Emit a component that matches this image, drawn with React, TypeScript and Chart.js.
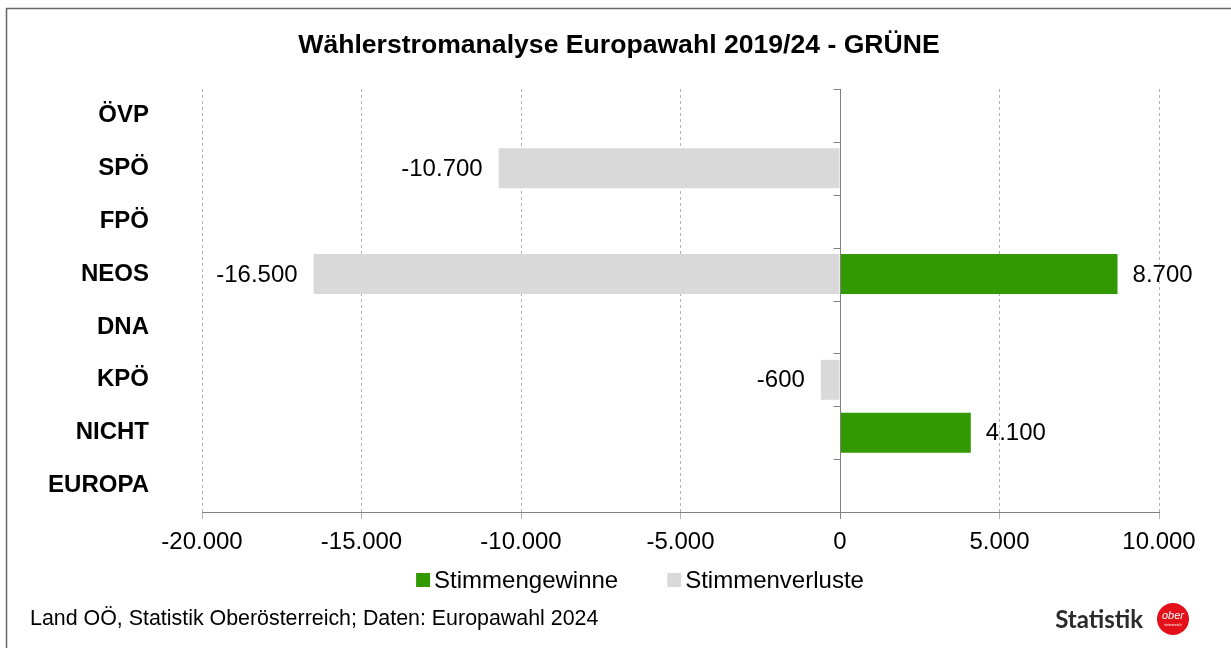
import React, { useEffect, useRef } from "react";
import { Chart, registerables } from "chart.js";

Chart.register(...registerables);

const TITLE = "Wählerstromanalyse Europawahl 2019/24 - GRÜNE";
const FOOTER = "Land OÖ, Statistik Oberösterreich; Daten: Europawahl 2024";
const categories = ["ÖVP", "SPÖ", "FPÖ", "NEOS", "DNA", "KPÖ", "NICHT", "EUROPA"];
const gains: (number | null)[] = [null, null, null, 8700, null, null, 4100, null];
const losses: (number | null)[] = [null, -10700, null, -16500, null, -600, null, null];
const seriesNames = ["Stimmengewinne", "Stimmenverluste"];
const seriesColors = ["#339900", "#d9d9d9"];
const xMin = -20000;
const xMax = 10000;
const xStep = 5000;

const FONT = "'Liberation Sans', Arial, sans-serif";

function fmt(v: number): string {
  const s = Math.abs(Math.round(v)).toString().replace(/\B(?=(\d{3})+(?!\d))/g, ".");
  return (v < 0 ? "-" : "") + s;
}

const decorPlugin = {
  id: "decor",
  beforeDraw(chart: any) {
    const ctx = chart.ctx;
    ctx.save();
    ctx.fillStyle = "#ffffff";
    ctx.fillRect(0, 0, chart.width, chart.height);
    ctx.restore();
  },
  afterDatasetsDraw(chart: any) {
    const ctx = chart.ctx;
    const x = chart.scales.x;
    const y = chart.scales.y;
    const area = chart.chartArea;
    const zx = Math.round(x.getPixelForValue(0)) + 0.5;
    ctx.save();
    ctx.strokeStyle = "#808080";
    ctx.lineWidth = 1;
    ctx.beginPath();
    ctx.moveTo(zx, area.top);
    ctx.lineTo(zx, area.bottom + 7);
    ctx.stroke();
    for (let i = 0; i <= categories.length; i++) {
      const yy = Math.round(y.getPixelForValue(i - 0.5)) + 0.5;
      ctx.beginPath();
      ctx.moveTo(zx - 7, yy);
      ctx.lineTo(zx, yy);
      ctx.stroke();
    }
    ctx.fillStyle = "#000";
    ctx.font = `24px ${FONT}`;
    ctx.textBaseline = "middle";
    chart.data.datasets.forEach((ds: any, di: number) => {
      const meta = chart.getDatasetMeta(di);
      meta.data.forEach((el: any, i: number) => {
        const v = ds.data[i];
        if (v === null || v === undefined) return;
        if (v < 0) {
          ctx.textAlign = "right";
          ctx.fillText(fmt(v), el.x - 16, el.y + 1);
        } else {
          ctx.textAlign = "left";
          ctx.fillText(fmt(v), el.x + 15, el.y + 1);
        }
      });
    });
    ctx.restore();
  },
  afterDraw(chart: any) {
    const ctx = chart.ctx;
    ctx.save();
    // frame
    ctx.strokeStyle = "#666666";
    ctx.lineWidth = 1.5;
    ctx.strokeRect(6.5, 8.5, chart.width + 20, chart.height + 20);
    // title
    ctx.fillStyle = "#000";
    ctx.font = `bold 26.6px ${FONT}`;
    ctx.textAlign = "center";
    ctx.textBaseline = "middle";
    ctx.fillText(TITLE, 619, 46);
    // legend
    ctx.font = `24px ${FONT}`;
    ctx.textAlign = "left";
    const box = 14;
    const gap = 4;
    const spacing = 49;
    const w0 = ctx.measureText(seriesNames[0]).width;
    const w1 = ctx.measureText(seriesNames[1]).width;
    const total = box + gap + w0 + spacing + box + gap + w1;
    let lx = 640 - total / 2;
    const ly = 580;
    [w0, w1].forEach((w, i) => {
      ctx.fillStyle = seriesColors[i];
      ctx.fillRect(lx, ly - box / 2, box, box);
      ctx.fillStyle = "#000";
      ctx.fillText(seriesNames[i], lx + box + gap, ly + 1);
      lx += box + gap + w + spacing;
    });
    // footer
    ctx.font = `21.4px ${FONT}`;
    ctx.fillText(FOOTER, 30, 619);
    // logo
    ctx.fillStyle = "#2b2b2b";
    ctx.font = `bold 24px Lato, 'DejaVu Sans', sans-serif`;
    ctx.textAlign = "right";
    ctx.fillText("Statistik", 1143, 620);
    ctx.fillStyle = "#e3101a";
    ctx.beginPath();
    ctx.arc(1173, 619, 16, 0, Math.PI * 2);
    ctx.fill();
    ctx.fillStyle = "#fff";
    ctx.font = `italic 11px ${FONT}`;
    ctx.textAlign = "center";
    ctx.fillText("ober", 1173, 616);
    ctx.font = `4px ${FONT}`;
    ctx.fillText("österreich", 1173, 625);
    ctx.restore();
  },
};

export default function App() {
  const ref = useRef<HTMLCanvasElement | null>(null);
  useEffect(() => {
    if (!ref.current) return;
    const chart = new Chart(ref.current, {
      type: "bar",
      data: {
        labels: categories,
        datasets: [
          {
            label: seriesNames[0],
            data: gains,
            backgroundColor: seriesColors[0],
            categoryPercentage: 1,
            barPercentage: 0.755,
          },
          {
            label: seriesNames[1],
            data: losses,
            backgroundColor: seriesColors[1],
            categoryPercentage: 1,
            barPercentage: 0.755,
          },
        ],
      },
      options: {
        indexAxis: "y",
        responsive: false,
        animation: false,
        layout: { padding: { left: 0, right: 72, top: 89, bottom: 88 } },
        scales: {
          x: {
            type: "linear",
            stacked: true,
            min: xMin,
            max: xMax,
            ticks: {
              stepSize: xStep,
              color: "#000",
              font: { family: FONT, size: 24 },
              padding: 9,
              callback: (v: any) => fmt(Number(v)),
            },
            grid: {
              color: (c: any) => (c.tick && c.tick.value === 0 ? "rgba(0,0,0,0)" : "#b4b4b4"),
              tickColor: "#b4b4b4",
              tickLength: 7,
              lineWidth: 1,
            },
            border: { display: true, color: "#808080", dash: [3, 3] },
            afterFit: (s: any) => {
              s.height = 48;
            },
          },
          y: {
            type: "category",
            stacked: true,
            ticks: {
              color: "#000",
              font: { family: FONT, size: 24, weight: "bold" },
              padding: 53,
            },
            grid: { display: false, drawTicks: false },
            border: { display: false },
            afterFit: (s: any) => {
              s.width = 202;
            },
          },
        },
        plugins: {
          title: { display: false },
          legend: { display: false },
          tooltip: { enabled: false },
        },
      },
      plugins: [decorPlugin],
    } as any);
    return () => chart.destroy();
  }, []);
  return (
    <div style={{ position: "absolute", left: 0, top: 0, width: 1231, height: 648 }}>
      <canvas ref={ref} width={1231} height={648} style={{ display: "block" }} />
    </div>
  );
}
